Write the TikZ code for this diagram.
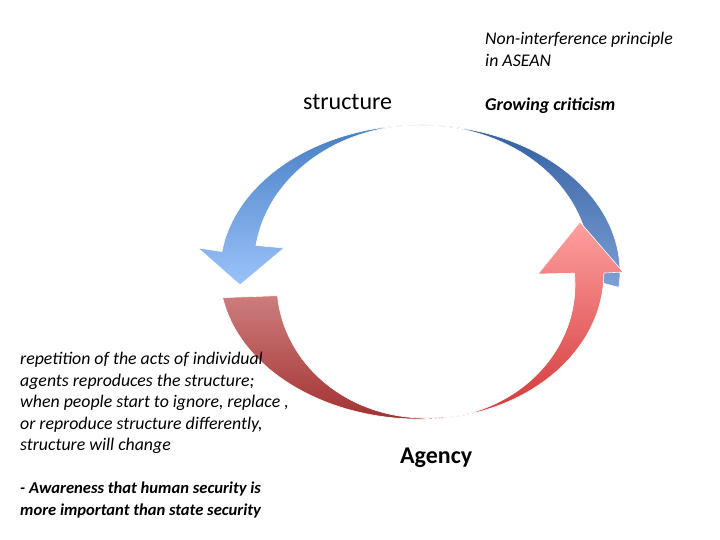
\documentclass[tikz,border=0pt]{standalone}
\usepackage{fontspec}
\setmainfont{Carlito}
\begin{document}
\begin{tikzpicture}[x=1pt,y=1pt,
  txt/.style={inner sep=0pt,anchor=north west,align=left,font=\fontsize{17.8}{21.5}\selectfont\itshape},
  band/.style={draw=white,line width=0.6pt}]
\useasboundingbox (0,0) rectangle (720,540);
% blue left with arrowhead (down)
\path[band,top color={rgb,255:red,70;green,125;blue,195},bottom color={rgb,255:red,155;green,195;blue,250}]
  (420,415) arc[start angle=90,end angle=172,x radius=200,y radius=147]
  -- (198,292) -- (240,255) -- (284,292) -- (256,294.5)
  arc[start angle=172,end angle=90,x radius=166,y radius=140] -- cycle;
% blue right
\path[band,top color={rgb,255:red,50;green,95;blue,160},bottom color={rgb,255:red,125;green,160;blue,215}]
  (420,415) arc[start angle=90,end angle=-6,x radius=200,y radius=147]
  -- (589,260.4) arc[start angle=-6,end angle=90,x radius=169,y radius=140] -- cycle;
% red left
\path[band,top color={rgb,255:red,205;green,125;blue,125},bottom color={rgb,255:red,160;green,45;blue,45}]
  (444,122) arc[start angle=277,end angle=190,x radius=200,y radius=147]
  -- (277.5,244.3) arc[start angle=185,end angle=277,x radius=148,y radius=134] -- cycle;
% red right with arrowhead (up)
\path[band,top color={rgb,255:red,255;green,160;blue,160},bottom color={rgb,255:red,210;green,55;blue,55}]
  (444,122) arc[start angle=277,end angle=360,x radius=182,y radius=146]
  -- (623,268) -- (580,318) -- (538,266) -- (574.4,266.8)
  arc[start angle=5,end angle=-83,x radius=148,y radius=134] -- cycle;
% texts
\node[txt] (nip) at (485,508) {Non-interference principle\\in ASEAN};
\node[txt,font=\fontsize{18}{20}\selectfont\bfseries\itshape] (gc) at (485,442) {Growing criticism};
\node[txt,font=\fontsize{24}{26}\selectfont] (st) at (303,446) {structure};
\node[txt,font=\fontsize{24}{26}\selectfont\bfseries] (ag) at (400,92) {Agency};
\node[txt] (rep) at (20,188) {repetition of the acts of individual\\agents reproduces the structure;\\when people start to ignore, replace ,\\or reproduce structure differently,\\structure will change};
\node[txt,font=\fontsize{16.6}{21.5}\selectfont\bfseries\itshape] (aw) at (20,58) {- Awareness that human security is\\more important than state security};
\end{tikzpicture}
\end{document}
